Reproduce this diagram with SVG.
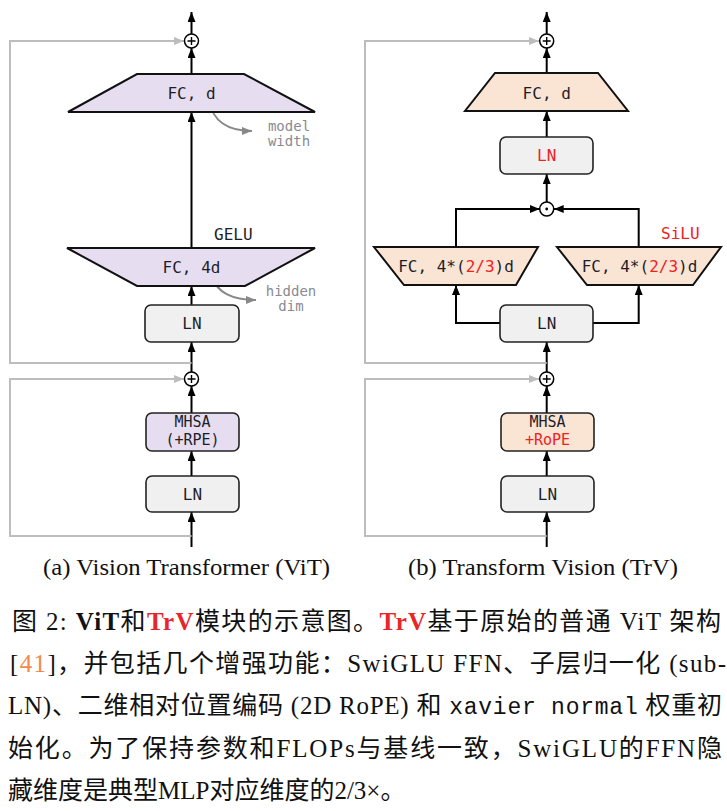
<svg xmlns="http://www.w3.org/2000/svg" width="727" height="811" viewBox="0 0 727 811">
<style>
.mono{font-family:"DejaVu Sans Mono","Liberation Mono",monospace;font-size:16px;fill:#1e1e2a}
.mono2{font-family:"DejaVu Sans Mono","Liberation Mono",monospace;font-size:15px;fill:#1e1e2a}
.note{font-family:"DejaVu Sans Mono","Liberation Mono",monospace;font-size:14px;fill:#8a8a92}
.red{fill:#ee2222}
.ln{fill:#f0f0f0;stroke:#222;stroke-width:1.6}
.vitf{fill:#e7ddf0;stroke:#111;stroke-width:2}
.trvf{fill:#fae4d4;stroke:#111;stroke-width:2}
.wire{fill:none;stroke:#000;stroke-width:2;marker-end:url(#ab)}
.skip{fill:none;stroke:#bdbdbd;stroke-width:2;marker-end:url(#ag)}
.curve{fill:none;stroke:#888;stroke-width:2;marker-end:url(#ac)}
.op{fill:#fff;stroke:#000;stroke-width:1.5}
.cap{font-family:"Liberation Serif","Times New Roman",serif;font-size:23px;fill:#111}
.zh{font-family:"Liberation Serif","Noto Sans CJK SC",serif;font-size:25px;fill:#111}
</style>
<defs>
<marker id="ab" markerUnits="userSpaceOnUse" markerWidth="10" markerHeight="8" refX="10" refY="4" orient="auto"><path d="M0,0 L10,4 L0,8 z" fill="#000"/></marker>
<marker id="ag" markerUnits="userSpaceOnUse" markerWidth="10" markerHeight="8" refX="10" refY="4" orient="auto"><path d="M0,0 L10,4 L0,8 z" fill="#bdbdbd"/></marker>
<marker id="ac" markerUnits="userSpaceOnUse" markerWidth="10" markerHeight="8" refX="10" refY="4" orient="auto"><path d="M0,0 L10,4 L0,8 z" fill="#888"/></marker>
</defs>

<g id="connectors">
<path class="wire" d="M191.5,34 V12"/>
<path class="wire" d="M191.5,74 V48"/>
<path class="wire" d="M191.5,248 V112"/>
<path class="wire" d="M191.5,305 V286"/>
<path class="wire" d="M191.5,372 V342"/>
<path class="wire" d="M191.5,413 V386"/>
<path class="wire" d="M191.5,476 V451"/>
<path class="wire" d="M191.5,547 V512"/>
<path class="skip" d="M191.5,363 H10 V41 H184"/>
<path class="skip" d="M191.5,536 H10 V379 H184"/>
<path class="curve" d="M210,101 C212,121 228,131 252,131"/>
<path class="curve" d="M213,277 C216,292 232,300 256,300"/>
<path class="wire" d="M546.7,34 V12"/>
<path class="wire" d="M546.7,73 V48"/>
<path class="wire" d="M546.7,137 V111"/>
<path class="wire" d="M546.7,202 V174"/>
<path class="wire" d="M456,247 V209 H539.7"/>
<path class="wire" d="M638.7,247 V209 H553.7"/>
<path class="wire" d="M500,323 H456 V285"/>
<path class="wire" d="M593,323 H638.7 V285"/>
<path class="wire" d="M546.7,372 V342"/>
<path class="wire" d="M546.7,413 V386"/>
<path class="wire" d="M546.7,476 V451"/>
<path class="wire" d="M546.7,547 V512"/>
<path class="skip" d="M546.7,363 H365 V41 H539"/>
<path class="skip" d="M546.7,536 H365 V379 H539"/>
</g>

<g id="vit_add_top"><circle class="op" cx="191.5" cy="41" r="7"/><path d="M187.5,41 H195.5 M191.5,37 V45" stroke="#000" stroke-width="1.4"/></g>
<g id="vit_fc_d"><polygon class="vitf" points="137,74 244,74 315,112 68,112"/><text class="mono" x="191.5" y="99" text-anchor="middle">FC, d</text></g>
<g id="vit_model_width"><text class="note" x="289" y="131" text-anchor="middle">model</text><text class="note" x="289" y="146" text-anchor="middle">width</text></g>
<g id="vit_gelu"><text class="mono" x="214" y="240">GELU</text></g>
<g id="vit_fc_4d"><polygon class="vitf" points="67,248 315,248 245,286 137,286"/><text class="mono" x="191.5" y="273" text-anchor="middle">FC, 4d</text></g>
<g id="vit_hidden_dim"><text class="note" x="291" y="296" text-anchor="middle">hidden</text><text class="note" x="291" y="311" text-anchor="middle">dim</text></g>
<g id="vit_ln2"><rect class="ln" x="145" y="305" width="94" height="37" rx="6"/><text class="mono" x="192" y="329" text-anchor="middle">LN</text></g>
<g id="vit_add_bot"><circle class="op" cx="191.5" cy="379" r="7"/><path d="M187.5,379 H195.5 M191.5,375 V383" stroke="#000" stroke-width="1.4"/></g>
<g id="vit_mhsa"><rect class="vitf" style="stroke-width:1.6;stroke:#222" x="146" y="413" width="93" height="38" rx="6"/><text class="mono2" x="192.5" y="427" text-anchor="middle">MHSA</text><text class="mono2" x="192.5" y="445" text-anchor="middle">(+RPE)</text></g>
<g id="vit_ln1"><rect class="ln" x="146" y="476" width="93" height="36" rx="6"/><text class="mono" x="192.5" y="500" text-anchor="middle">LN</text></g>

<g id="trv_add_top"><circle class="op" cx="546.7" cy="41" r="7"/><path d="M542.7,41 H550.7 M546.7,37 V45" stroke="#000" stroke-width="1.4"/></g>
<g id="trv_fc_d"><polygon class="trvf" points="495,73 598,73 628,111 465,111"/><text class="mono" x="546.7" y="99" text-anchor="middle">FC, d</text></g>
<g id="trv_ln3"><rect class="ln" x="500" y="137" width="93" height="37" rx="6"/><text class="mono red" x="546.7" y="161" text-anchor="middle">LN</text></g>
<g id="trv_mul"><circle class="op" cx="546.7" cy="209" r="7"/><circle cx="546.7" cy="209" r="1.4" fill="#000"/></g>
<g id="trv_silu"><text class="mono red" x="661" y="239">SiLU</text></g>
<g id="trv_fc_left"><polygon class="trvf" points="374,247 538,247 516,285 404,285"/><text class="mono" x="456" y="272" text-anchor="middle">FC, 4*(<tspan class="red">2/3</tspan>)d</text></g>
<g id="trv_fc_right"><polygon class="trvf" points="557,247 721,247 693,285 587,285"/><text class="mono" x="639.5" y="272" text-anchor="middle">FC, 4*(<tspan class="red">2/3</tspan>)d</text></g>
<g id="trv_ln2"><rect class="ln" x="500" y="305" width="93" height="37" rx="6"/><text class="mono" x="546.7" y="329" text-anchor="middle">LN</text></g>
<g id="trv_add_bot"><circle class="op" cx="546.7" cy="379" r="7"/><path d="M542.7,379 H550.7 M546.7,375 V383" stroke="#000" stroke-width="1.4"/></g>
<g id="trv_mhsa"><rect class="trvf" style="stroke-width:1.6;stroke:#222" x="501" y="413" width="93" height="38" rx="6"/><text class="mono2" x="547.5" y="427" text-anchor="middle">MHSA</text><text class="mono2 red" x="547.5" y="445" text-anchor="middle">+RoPE</text></g>
<g id="trv_ln1"><rect class="ln" x="501" y="476" width="93" height="36" rx="6"/><text class="mono" x="547.5" y="500" text-anchor="middle">LN</text></g>

<g id="captions">
<text class="cap" x="43" y="575" textLength="287" lengthAdjust="spacingAndGlyphs">(a) Vision Transformer (ViT)</text>
<text class="cap" x="408" y="575" textLength="270" lengthAdjust="spacingAndGlyphs">(b) Transform Vision (TrV)</text>
</g>

<g id="figure_caption">
<text class="zh" x="12" y="630" textLength="709" lengthAdjust="spacing">图 2: <tspan font-weight="bold">ViT</tspan>和<tspan font-weight="bold" fill="#e8262a">TrV</tspan>模块的示意图。<tspan font-weight="bold" fill="#e8262a">TrV</tspan>基于原始的普通 ViT 架构</text>
<text class="zh" x="10" y="672" textLength="716" lengthAdjust="spacing">[<tspan fill="#f08a4b">41</tspan>]，并包括几个增强功能：SwiGLU FFN、子层归一化 (sub-</text>
<text class="zh" x="8" y="714" textLength="714" lengthAdjust="spacing">LN)、二维相对位置编码 (2D RoPE) 和 <tspan font-family="Liberation Mono, monospace" font-size="23">xavier normal</tspan> 权重初</text>
<text class="zh" x="8" y="757" textLength="714" lengthAdjust="spacing">始化。为了保持参数和FLOPs与基线一致，SwiGLU的FFN隐</text>
<text class="zh" x="8" y="799">藏维度是典型MLP对应维度的2/3×。</text>
</g>
</svg>
